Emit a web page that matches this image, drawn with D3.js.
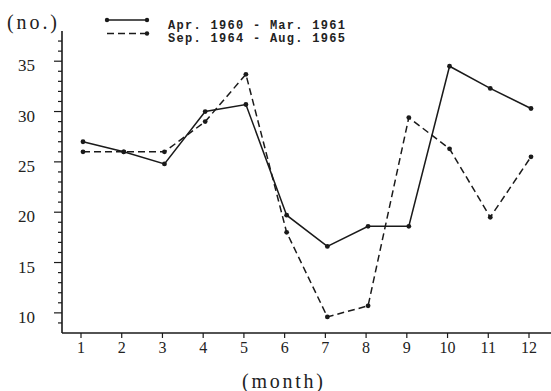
<!DOCTYPE html>
<html lang="en">
<head>
<meta charset="UTF-8">
<title>Monthly number</title>
<script src="https://d3js.org/d3.v7.min.js"></script>
<style>
    body { margin: 0; background: #fff; }
    svg { display: block; }
    .legend text { font-family: "Liberation Mono", monospace; font-size: 12px; font-weight: bold; fill: #222; }
</style>
</head>
<body>
<div id="chart"></div>
<script>
    const months = [1, 2, 3, 4, 5, 6, 7, 8, 9, 10, 11, 12];
    const series1 = [27, 26, 24.8, 30, 30.7, 19.7, 16.6, 18.6, 18.6, 34.5, 32.3, 30.3];   // Apr. 1960 - Mar. 1961
    const series2 = [26, 26, 26, 29, 33.7, 18, 9.6, 10.7, 29.4, 26.3, 19.5, 25.5];       // Sep. 1964 - Aug. 1965
    const yTicks = [10, 15, 20, 25, 30, 35];
    const seriesNames = ["Apr. 1960 - Mar. 1961", "Sep. 1964 - Aug. 1965"];

    const width = 551, height = 391;
    const svg = d3.select("#chart").append("svg")
        .attr("width", width).attr("height", height);

    const x = d3.scaleLinear().domain([1, 12]).range([83, 531]);
    const y = d3.scaleLinear().domain([8, 38]).range([333, 31]);

    const ink = "#1a1a1a";

    // y axis: minor ticks every 1, labelled every 5
    const yAxis = svg.append("g")
        .attr("transform", "translate(62,0)");
    yAxis.append("line")
        .attr("y1", y(38)).attr("y2", y(8))
        .attr("stroke", ink).attr("stroke-width", 1.6);
    yAxis.selectAll(".minor")
        .data(d3.range(9, 38))
        .join("line")
        .attr("x1", d => yTicks.includes(d) ? -8 : -4).attr("x2", 0)
        .attr("y1", d => y(d)).attr("y2", d => y(d))
        .attr("stroke", ink).attr("stroke-width", 1.2);
    yAxis.selectAll(".ylab")
        .data(yTicks)
        .join("text")
        .attr("x", -27).attr("y", d => y(d) + 10)
        .attr("text-anchor", "end")
        .style("font-family", "Liberation Serif, serif")
        .style("font-size", "17px")
        .attr("fill", "#222")
        .text(d => d);

    // x axis
    const xAxis = svg.append("g")
        .attr("transform", `translate(0,${y(8)})`);
    xAxis.append("line")
        .attr("x1", 62).attr("x2", width)
        .attr("stroke", ink).attr("stroke-width", 1.6);
    xAxis.selectAll(".xt")
        .data(months)
        .join("line")
        .attr("x1", d => x(d) - 2).attr("x2", d => x(d) - 2)
        .attr("y1", 0).attr("y2", 5)
        .attr("stroke", ink).attr("stroke-width", 1.2);
    xAxis.selectAll(".xlab")
        .data(months)
        .join("text")
        .attr("x", d => x(d) - 2).attr("y", 20)
        .attr("text-anchor", "middle")
        .style("font-family", "Liberation Serif, serif")
        .style("font-size", "16px")
        .attr("fill", "#222")
        .text(d => d);

    // axis titles
    svg.append("text")
        .attr("x", 7).attr("y", 29)
        .attr("textLength", 50).attr("lengthAdjust", "spacing")
        .style("font-family", "Liberation Serif, serif")
        .style("font-size", "20px")
        .attr("fill", "#222")
        .text("(no.)");
    svg.append("text")
        .attr("x", 242).attr("y", 388)
        .attr("textLength", 81).attr("lengthAdjust", "spacing")
        .style("font-family", "Liberation Serif, serif")
        .style("font-size", "20px")
        .attr("fill", "#222")
        .text("(month)");

    // lines
    const line = d3.line()
        .x((d, i) => x(months[i]))
        .y(d => y(d));
    const dashes = [null, "7,4"];
    [series1, series2].forEach((s, k) => {
        svg.append("path")
            .datum(s)
            .attr("d", line)
            .attr("fill", "none")
            .attr("stroke", ink)
            .attr("stroke-width", 1.5)
            .attr("stroke-dasharray", dashes[k]);
        svg.selectAll(".pt" + k)
            .data(s)
            .join("circle")
            .attr("cx", (d, i) => x(months[i]))
            .attr("cy", d => y(d))
            .attr("r", 2.4)
            .attr("fill", ink);
    });

    // legend
    const legend = svg.append("g").attr("class", "legend");
    seriesNames.forEach((name, k) => {
        const ly = 20 + k * 13.5;
        legend.append("line")
            .attr("x1", 107).attr("x2", 147)
            .attr("y1", ly).attr("y2", ly)
            .attr("stroke", ink).attr("stroke-width", 1.5)
            .attr("stroke-dasharray", dashes[k]);
        if (k === 0) {
            legend.append("circle").attr("cx", 107).attr("cy", ly).attr("r", 2.2).attr("fill", ink);
        }
        legend.append("circle").attr("cx", 147).attr("cy", ly).attr("r", 2.2).attr("fill", ink);
        legend.append("text")
            .attr("x", 168).attr("y", ly + 8.5)
            .attr("textLength", 177).attr("lengthAdjust", "spacing")
            .text(name);
    });
</script>
</body>
</html>
